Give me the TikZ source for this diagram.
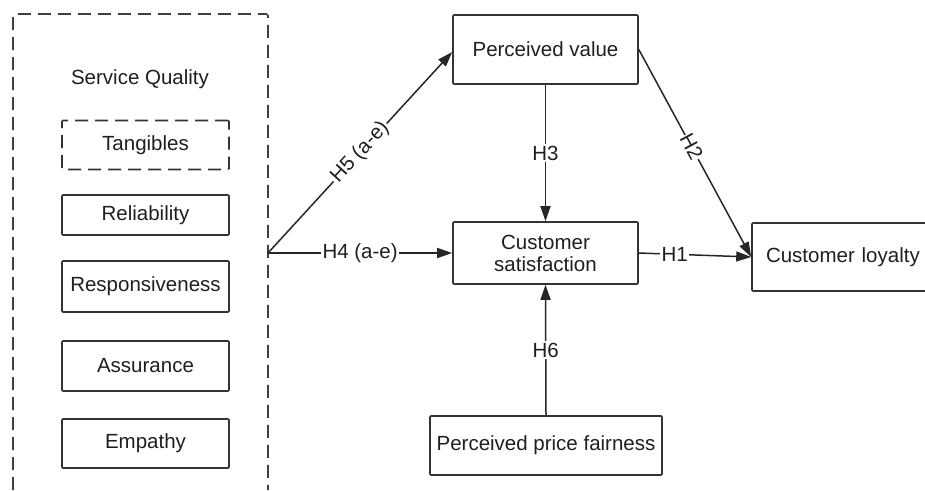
\documentclass[tikz,border=0pt]{standalone}
\usepackage{fontspec}
\setmainfont{Liberation Sans}
\usetikzlibrary{arrows.meta}
\begin{document}
\begin{tikzpicture}[x=1pt,y=-1pt,
  every node/.style={font=\fontsize{20.5}{24}\selectfont, text=black!88},
  box/.style={draw=black!80, line width=1.6pt, rounded corners=1pt, inner sep=0pt, align=center},
  dashbox/.style={box, dash pattern=on 13pt off 7pt},
  link/.style={draw=black!85, line width=1.5pt, -{Triangle[length=15pt,width=10pt]}},
  lbl/.style={fill=white, inner sep=1.5pt}
]
\useasboundingbox (0,0) rectangle (925,490);

% service quality group (open at the bottom)
\draw[black!75, line width=1.6pt, dash pattern=on 13pt off 7pt, rounded corners=2pt]
  (13,490) -- (13,14) -- (268,14) -- (268,490);
\coordinate (sqjoin) at (268,253);
\node (sqtitle) at (140,79) {Service Quality};

% dimensions
\node[dashbox, minimum width=167pt, minimum height=49pt] (tang)  at (145.5,145)   {Tangibles};
\node[box, minimum width=167pt, minimum height=40pt]     (rel)   at (145.5,215)   {Reliability};
\node[box, minimum width=167pt, minimum height=51pt]     (resp)  at (145.5,286.5) {Responsiveness};
\node[box, minimum width=167pt, minimum height=50pt]     (assur) at (145.5,366)   {Assurance};
\node[box, minimum width=167pt, minimum height=49pt]     (emp)   at (145.5,443.5) {Empathy};

% constructs
\node[box, minimum width=185pt, minimum height=69pt] (pv)  at (545.5,49.5) {Perceived value};
\node[box, minimum width=185pt, minimum height=62pt] (cs)  at (545.5,253)  {Customer\\[-2pt]satisfaction};
\node[box, minimum width=232pt, minimum height=59pt] (ppf) at (546,445.5)  {Perceived price fairness};
\node[box, minimum width=176pt, minimum height=68pt, text width=176pt, align=left] (cl) at (840,257)
  {\hspace*{14pt}Customer loyalty};

% hypotheses
\draw[link] (sqjoin) -- node[lbl, sloped] {H5 (a-e)} (pv.west |- 0,52);
\draw[link] (sqjoin) -- node[lbl] {H4 (a-e)} (cs.west);
\draw[link] (pv.south) -- node[lbl] {H3} (cs.north);
\draw[link] (ppf.north) -- node[lbl] {H6} (cs.south);
\draw[link] (cs.east) -- node[lbl, pos=0.32] {H1} (cl.west);
\draw[link] (pv.east) -- node[lbl, sloped, pos=0.47, inner sep=0.5pt] {H2} (cl.west);
\end{tikzpicture}
\end{document}
